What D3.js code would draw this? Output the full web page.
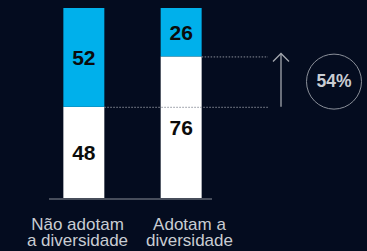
<!DOCTYPE html>
<html>
<head>
<meta charset="utf-8">
<script src="https://cdn.jsdelivr.net/npm/d3@7"></script>
<style>
html,body{margin:0;padding:0;background:#040c1f;}
svg{display:block;}
text{font-family:"Liberation Sans",Arial,Helvetica,sans-serif;}
</style>
</head>
<body>
<script>
const categories = ["Não adotam a diversidade", "Adotam a diversidade"];
const labelLines = [["Não adotam", "a diversidade"], ["Adotam a", "diversidade"]];
const lowerValues = [48, 76];
const upperValues = [52, 26];
const increaseLabel = "54%";

const W = 367, H = 251;
const svg = d3.select("body").append("svg").attr("width", W).attr("height", H);
svg.append("rect").attr("width", W).attr("height", H).attr("fill", "#040c1f");

const rows = categories.map((c, i) => ({cat: c, lower: lowerValues[i], upper: upperValues[i]}));
const stack = d3.stack().keys(["lower", "upper"]).offset(d3.stackOffsetExpand);
const series = stack(rows);

const x = d3.scaleBand().domain(categories).range([40, 225]).paddingInner(0.579).paddingOuter(0.24);
const y = d3.scaleLinear().domain([0, 1]).range([198, 8]);
const labelX = d3.scalePoint().domain(categories).range([77.5, 189.5]);

const colors = {lower: "#ffffff", upper: "#00b0eb"};

// bars
series.forEach(s => {
  svg.append("g").selectAll("rect").data(s).join("rect")
    .attr("x", d => x(d.data.cat))
    .attr("width", x.bandwidth())
    .attr("y", d => y(d[1]))
    .attr("height", d => y(d[0]) - y(d[1]))
    .attr("fill", colors[s.key]);
});

// value labels
series.forEach(s => {
  svg.append("g").selectAll("text").data(s).join("text")
    .attr("x", d => x(d.data.cat) + x.bandwidth() / 2)
    .attr("y", d => (y(d[0]) + y(d[1])) / 2 + 2)
    .attr("text-anchor", "middle")
    .attr("dominant-baseline", "middle")
    .attr("font-size", 21)
    .attr("font-weight", "bold")
    .attr("fill", "#0b0b0b")
    .text(d => d.data[s.key]);
});

// baseline
svg.append("line").attr("x1", 49).attr("x2", 212).attr("y1", y(0) + 1).attr("y2", y(0) + 1)
  .attr("stroke", "#8a8f99").attr("stroke-width", 1);

// dotted reference lines
const lowTop = y(series[0][0][1]);
const highTop = y(series[0][1][1]);
const endX = 268;
svg.append("line")
  .attr("x1", x(categories[0]) + x.bandwidth()).attr("x2", endX)
  .attr("y1", lowTop + 0.5).attr("y2", lowTop + 0.5)
  .attr("stroke", "#8a8f99").attr("stroke-width", 1).attr("stroke-dasharray", "1.5,1.5");
svg.append("line")
  .attr("x1", x(categories[1]) + x.bandwidth()).attr("x2", endX)
  .attr("y1", highTop + 0.5).attr("y2", highTop + 0.5)
  .attr("stroke", "#8a8f99").attr("stroke-width", 1).attr("stroke-dasharray", "1.5,1.5");

// arrow
const ax = 281;
const aTop = highTop - 3;
svg.append("line").attr("x1", ax).attr("x2", ax).attr("y1", lowTop).attr("y2", aTop)
  .attr("stroke", "#a3a7ae").attr("stroke-width", 1.3);
svg.append("path")
  .attr("d", `M${ax - 8},${aTop + 8} L${ax},${aTop} L${ax + 8},${aTop + 8}`)
  .attr("fill", "none").attr("stroke", "#a3a7ae").attr("stroke-width", 1.3);

// circle with increase
const cy = (lowTop + highTop) / 2;
svg.append("circle").attr("cx", 334).attr("cy", cy).attr("r", 27.5)
  .attr("fill", "none").attr("stroke", "#8a8f99").attr("stroke-width", 1);
svg.append("text").attr("x", 334).attr("y", cy + 1)
  .attr("text-anchor", "middle").attr("dominant-baseline", "middle")
  .attr("font-size", 17.5).attr("font-weight", "bold").attr("fill", "#c9cdd3")
  .text(increaseLabel);

// category labels
categories.forEach((c, i) => {
  const t = svg.append("text").attr("text-anchor", "middle")
    .attr("font-size", 17).attr("fill", "#c9cdd3");
  labelLines[i].forEach((ln, j) => {
    t.append("tspan").attr("x", labelX(c)).attr("y", 230 + j * 16).text(ln);
  });
});
</script>
</body>
</html>
